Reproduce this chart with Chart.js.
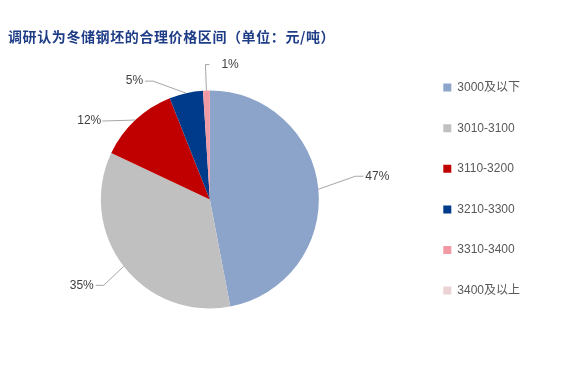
<!DOCTYPE html>
<html>
<head>
<meta charset="utf-8">
<script src="https://cdn.jsdelivr.net/npm/chart.js@4/dist/chart.umd.min.js"></script>
<style>
body { margin: 0; background: #fff; }
#wrap { position: relative; width: 575px; height: 373px; }
#title {
    position: absolute; left: 8px; top: 26px;
    font: bold 14px 'Noto Sans CJK SC', sans-serif;
    letter-spacing: 0.6px;
    color: #1F3D87; white-space: nowrap;
}
</style>
</head>
<body>
<div id="wrap">
    <canvas id="pieChart" width="575" height="373"></canvas>
    <div id="title">调研认为冬储钢坯的合理价格区间（单位：元/吨）</div>
</div>
<script>
const priceRanges = ['3000及以下', '3010-3100', '3110-3200', '3210-3300', '3310-3400', '3400及以上'];
const shares = [47, 35, 12, 5, 1, 0];
const sliceColors = ['#8CA4C9', '#C0C0C0', '#C00000', '#003A8A', '#F29AA3', '#EBD3D3'];

// leader line per slice: elbow offset from arc edge, horizontal tail, text gap
const leaders = [
    [37, -13, 8, 2],
    [-20, 19, -8, 2],
    [-33, 1, 0, 1],
    [-33, -12, -8, 2],
    [-1, -26, 4, 12],
    [0, 0, 0, 0]
];

const leaderLabels = {
    id: 'leaderLabels',
    afterDatasetsDraw(chart, args, opts) {
        const ctx = chart.ctx;
        const meta = chart.getDatasetMeta(0);
        const data = chart.data.datasets[0].data;
        ctx.save();
        ctx.strokeStyle = opts.lineColor;
        ctx.lineWidth = 1;
        ctx.fillStyle = opts.color;
        ctx.font = opts.font;
        ctx.textBaseline = 'middle';
        meta.data.forEach((arc, i) => {
            const value = data[i];
            if (!value) return;
            const p = arc.getProps(['x', 'y', 'startAngle', 'endAngle', 'outerRadius'], true);
            const mid = (p.startAngle + p.endAngle) / 2;
            const ex = p.x + Math.cos(mid) * p.outerRadius;
            const ey = p.y + Math.sin(mid) * p.outerRadius;
            const [dx, dy, tail, gap] = opts.leaders[i];
            const bx = ex + dx, by = ey + dy;
            const tx = bx + tail;
            ctx.beginPath();
            ctx.moveTo(ex, ey);
            ctx.lineTo(bx, by);
            ctx.lineTo(tx, by);
            ctx.stroke();
            const toRight = tail > 0 || (tail === 0 && dx > 0);
            ctx.textAlign = toRight ? 'left' : 'right';
            ctx.fillText(value + '%', tx + (toRight ? gap : -gap), by);
        });
        ctx.restore();
    }
};

const ctx = document.getElementById('pieChart').getContext('2d');
const pieChart = new Chart(ctx, {
    type: 'pie',
    data: {
        labels: priceRanges,
        datasets: [{
            data: shares,
            backgroundColor: sliceColors,
            borderWidth: 0,
            radius: 109
        }]
    },
    options: {
        responsive: false,
        animation: false,
        devicePixelRatio: 1,
        layout: {
            padding: { top: 53, bottom: 27, left: 5, right: 45 }
        },
        plugins: {
            legend: {
                position: 'right',
                align: 'start',
                labels: {
                    boxWidth: 8,
                    boxHeight: 8,
                    padding: 28.6,
                    color: '#595959',
                    font: {
                        size: 12,
                        family: "'Liberation Sans', 'Noto Sans CJK SC', sans-serif"
                    }
                }
            },
            tooltip: { enabled: false },
            leaderLabels: {
                leaders: leaders,
                lineColor: '#A6A6A6',
                color: '#404040',
                font: "12px 'Liberation Sans', 'Noto Sans CJK SC', sans-serif"
            }
        }
    },
    plugins: [leaderLabels]
});
</script>
</body>
</html>
